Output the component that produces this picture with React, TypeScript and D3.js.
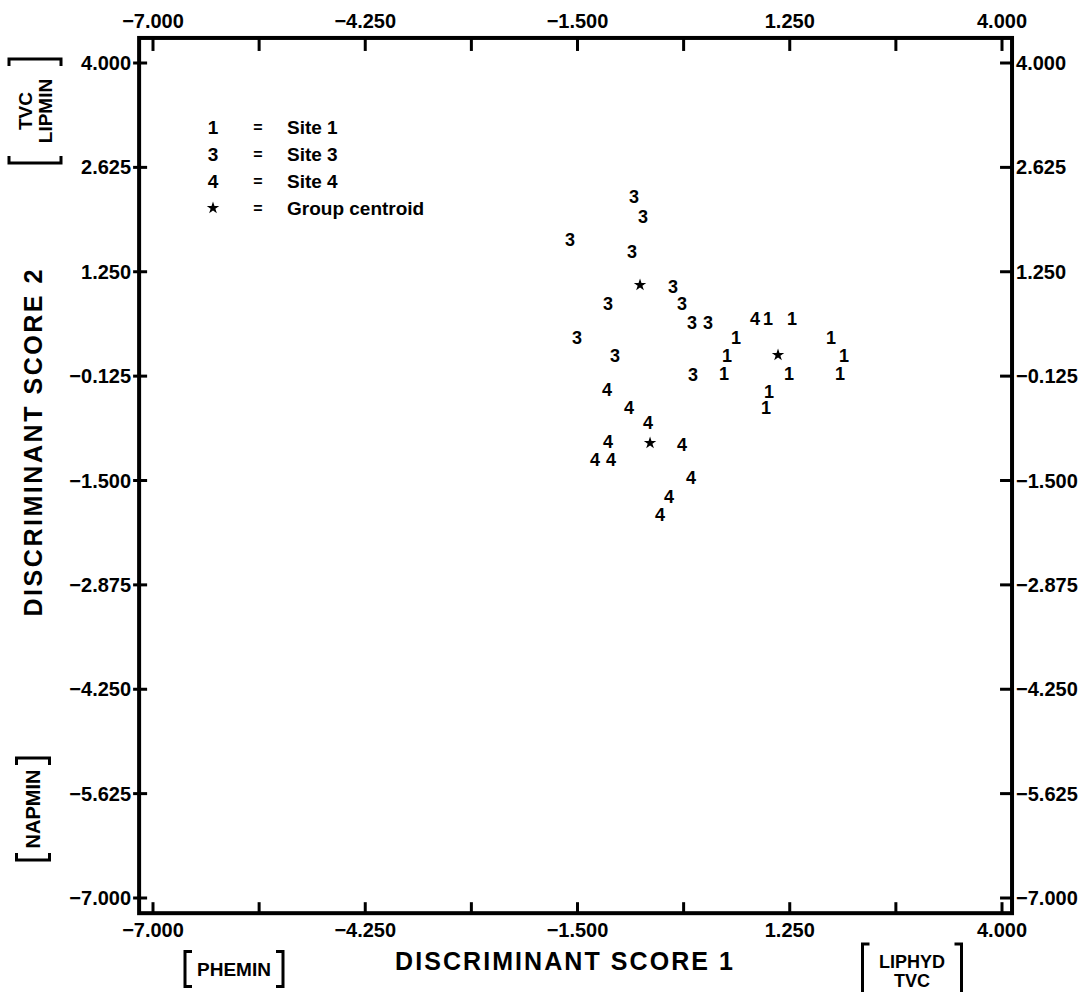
import React from "react";
import * as d3 from "d3";

const WIDTH = 1085;
const HEIGHT = 992;
const FONT = "'Liberation Sans', Arial, sans-serif";

// axis ticks (every 1.375), x labelled on every other tick
const X_TICKS = [-7, -5.625, -4.25, -2.875, -1.5, -0.125, 1.25, 2.625, 4];
const X_LABELLED = [-7, -4.25, -1.5, 1.25, 4];
const Y_TICKS = [4, 2.625, 1.25, -0.125, -1.5, -2.875, -4.25, -5.625, -7];

// discriminant scores [score1, score2]
const site1: [number, number][] = [
  [0.968, 0.628], [1.279, 0.628], [0.554, 0.39], [1.785, 0.377],
  [0.437, 0.153], [1.953, 0.153], [0.398, -0.097], [1.24, -0.097],
  [1.901, -0.097], [0.981, -0.334], [0.943, -0.545],
];
const site3: [number, number][] = [
  [-0.768, 2.235], [-0.651, 1.971], [-1.597, 1.681], [-0.794, 1.51],
  [-0.263, 1.062], [-1.105, 0.838], [-0.146, 0.838], [-0.016, 0.575],
  [0.191, 0.575], [-1.506, 0.377], [-1.014, 0.153], [-0.003, -0.11],
];
const site4: [number, number][] = [
  [0.8, 0.628], [-1.118, -0.308], [-0.833, -0.545], [-0.586, -0.742],
  [-1.105, -0.993], [-0.146, -1.032], [-1.273, -1.23], [-1.066, -1.23],
  [-0.029, -1.467], [-0.314, -1.717], [-0.431, -1.954],
];
const centroids: [number, number][] = [
  [1.098, 0.153], [-0.69, 1.075], [-0.56, -1.006],
];

const groups = [
  { symbol: "1", points: site1 },
  { symbol: "3", points: site3 },
  { symbol: "4", points: site4 },
];

const legendRows = [
  { symbol: "1", label: "Site 1" },
  { symbol: "3", label: "Site 3" },
  { symbol: "4", label: "Site 4" },
  { symbol: "*", label: "Group centroid" },
];

// square bracket pair around a label, drawn in local coords centred on 0,0
const Brackets = ({ w, h }: { w: number; h: number }) => {
  const s = 7;
  const l = -w / 2, r = w / 2, t = -h / 2, b = h / 2;
  return (
    <g fill="none" stroke="#000" strokeWidth={3}>
      <path d={`M${l + s},${t} H${l} V${b} H${l + s}`} />
      <path d={`M${r - s},${t} H${r} V${b} H${r - s}`} />
    </g>
  );
};

export default function App() {
  const x = d3.scaleLinear().domain([-7, 4]).range([153, 1002]);
  const y = d3.scaleLinear().domain([-7, 4]).range([898, 63]);
  const fmt = d3.format(".3f");
  const star = d3.symbol(d3.symbolStar, 48)() || "";

  const left = x(-7.18), right = x(4.13), top = y(4.33), bottom = y(-7.2);

  return (
    <svg
      width={WIDTH}
      height={HEIGHT}
      style={{ position: "absolute", left: 0, top: 0, background: "#fff" }}
      fontFamily={FONT}
      fontWeight={700}
    >
      {/* frame */}
      <rect x={left} y={top} width={right - left} height={bottom - top}
        fill="none" stroke="#000" strokeWidth={4} />

      {/* x ticks top and bottom */}
      {X_TICKS.map((t) => (
        <g key={`xt${t}`} stroke="#000" strokeWidth={3}>
          <line x1={x(t)} x2={x(t)} y1={top} y2={top + 13} />
          <line x1={x(t)} x2={x(t)} y1={bottom} y2={bottom - 11} />
        </g>
      ))}
      {X_LABELLED.map((t) => (
        <g key={`xl${t}`} fontSize={20} textAnchor="middle">
          <text x={x(t)} y={top - 10}>{fmt(t)}</text>
          <text x={x(t)} y={bottom + 24}>{fmt(t)}</text>
        </g>
      ))}

      {/* y ticks left and right */}
      {Y_TICKS.map((t) => (
        <g key={`yt${t}`}>
          <line x1={left - 6} x2={left + 8} y1={y(t)} y2={y(t)} stroke="#000" strokeWidth={3} />
          <line x1={right - 12} x2={right} y1={y(t)} y2={y(t)} stroke="#000" strokeWidth={3} />
          <text x={left - 8} y={y(t)} dy="0.35em" fontSize={20} textAnchor="end">{fmt(t)}</text>
          <text x={right + 4} y={y(t)} dy="0.35em" fontSize={20} textAnchor="start">{fmt(t)}</text>
        </g>
      ))}

      {/* axis titles */}
      <text x={564} y={970} fontSize={25} textAnchor="middle"
        textLength={338} lengthAdjust="spacing">DISCRIMINANT SCORE 1</text>
      <text transform="translate(42,443) rotate(-90)" fontSize={25} textAnchor="middle"
        textLength={347} lengthAdjust="spacing">DISCRIMINANT SCORE 2</text>

      {/* variable annotations */}
      <g transform="translate(234,969)">
        <Brackets w={98} h={35} />
        <text y={0} dy="0.36em" fontSize={19} textAnchor="middle">PHEMIN</text>
      </g>
      <g transform="translate(912,972)">
        <Brackets w={99} h={56} />
        <text y={-10} dy="0.36em" fontSize={18} textAnchor="middle">LIPHYD</text>
        <text y={9} dy="0.36em" fontSize={18} textAnchor="middle">TVC</text>
      </g>
      <g transform="translate(35,111) rotate(-90)">
        <Brackets w={104} h={52} />
        <text y={-10} dy="0.36em" fontSize={19} textAnchor="middle">TVC</text>
        <text y={10} dy="0.36em" fontSize={19} textAnchor="middle">LIPMIN</text>
      </g>
      <g transform="translate(33,809) rotate(-90)">
        <Brackets w={102} h={33} />
        <text y={0} dy="0.36em" fontSize={20} textAnchor="middle">NAPMIN</text>
      </g>

      {/* legend */}
      {legendRows.map((r, i) => {
        const ly = 127 + i * 27;
        return (
          <g key={r.label} fontSize={19}>
            {r.symbol === "*" ? (
              <path d={star} transform={`translate(213,${ly})`} fill="#000" />
            ) : (
              <text x={213} y={ly} dy="0.36em" textAnchor="middle">{r.symbol}</text>
            )}
            <text x={258} y={ly} dy="0.36em" textAnchor="middle" fontSize={16}>=</text>
            <text x={287} y={ly} dy="0.36em">{r.label}</text>
          </g>
        );
      })}

      {/* observations */}
      {groups.map((g) =>
        g.points.map(([px, py], i) => (
          <text key={`${g.symbol}-${i}`} x={x(px)} y={y(py)} dy="0.36em"
            fontSize={18} textAnchor="middle">{g.symbol}</text>
        ))
      )}
      {centroids.map(([px, py], i) => (
        <path key={`c${i}`} d={star} transform={`translate(${x(px)},${y(py)})`} fill="#000" />
      ))}
    </svg>
  );
}
